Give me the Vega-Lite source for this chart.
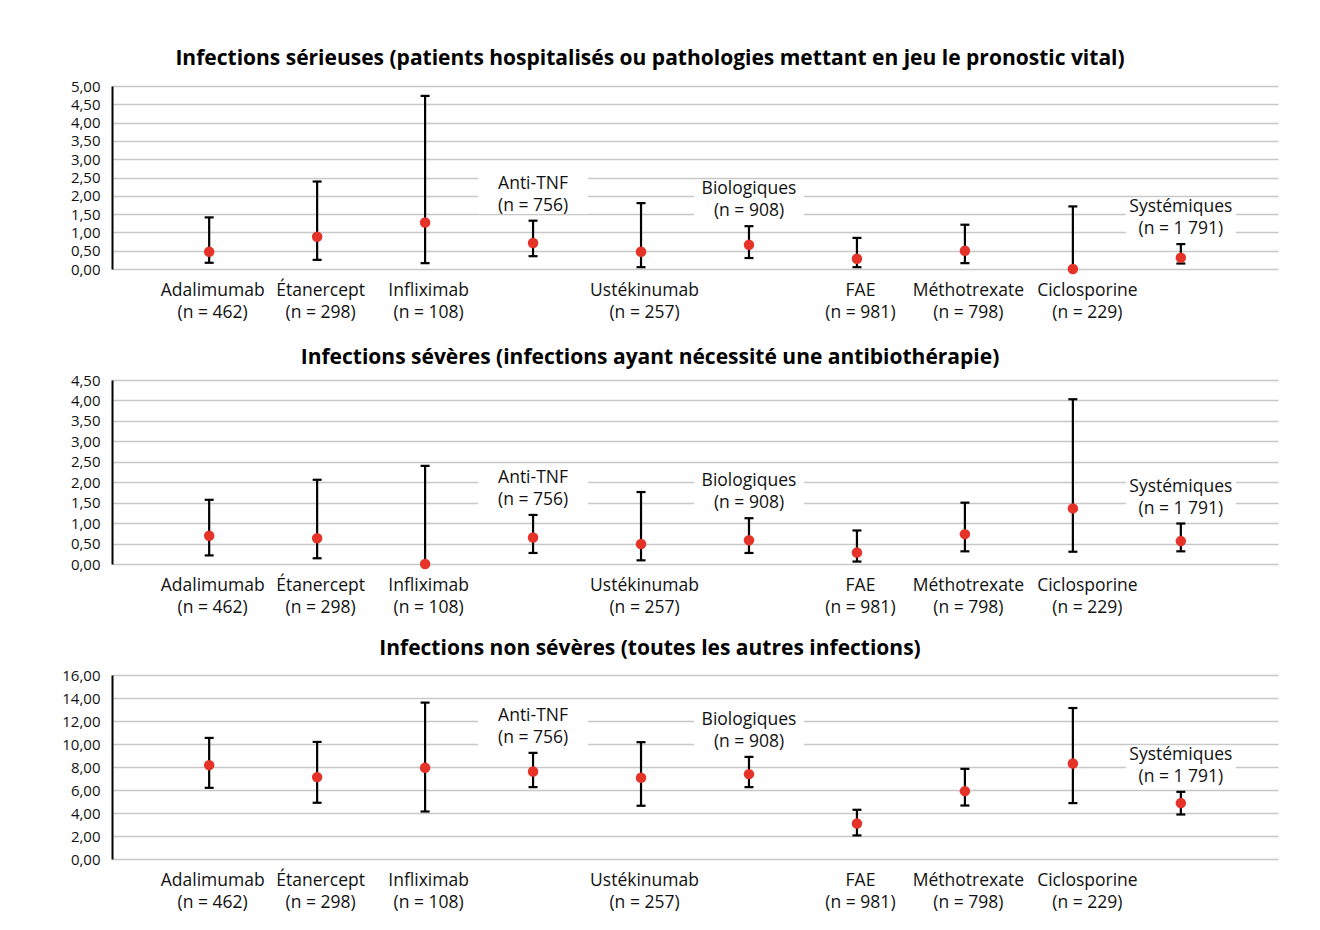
{
  "$schema": "https://vega.github.io/schema/vega-lite/v6.json",
  "background": "white",
  "padding": {"left": 61, "top": 48, "right": 5, "bottom": 5},
  "datasets": {
    "d": [
      {"panel": "A", "cat": "Adalimumab|(n = 462)", "est": 0.47, "low": 0.17, "high": 1.41, "grp": false},
      {"panel": "A", "cat": "Étanercept|(n = 298)", "est": 0.88, "low": 0.25, "high": 2.39, "grp": false},
      {"panel": "A", "cat": "Infliximab|(n = 108)", "est": 1.27, "low": 0.16, "high": 4.73, "grp": false},
      {"panel": "A", "cat": "Anti-TNF|(n = 756)", "est": 0.71, "low": 0.35, "high": 1.32, "grp": true},
      {"panel": "A", "cat": "Ustékinumab|(n = 257)", "est": 0.47, "low": 0.05, "high": 1.8, "grp": false},
      {"panel": "A", "cat": "Biologiques|(n = 908)", "est": 0.66, "low": 0.3, "high": 1.17, "grp": true},
      {"panel": "A", "cat": "FAE|(n = 981)", "est": 0.28, "low": 0.05, "high": 0.85, "grp": false},
      {"panel": "A", "cat": "Méthotrexate|(n = 798)", "est": 0.5, "low": 0.16, "high": 1.21, "grp": false},
      {"panel": "A", "cat": "Ciclosporine|(n = 229)", "est": 0.0, "low": 0.0, "high": 1.71, "grp": false},
      {"panel": "A", "cat": "Systémiques|(n = 1 791)", "est": 0.31, "low": 0.15, "high": 0.68, "grp": true},
      {"panel": "B", "cat": "Adalimumab|(n = 462)", "est": 0.69, "low": 0.21, "high": 1.57, "grp": false},
      {"panel": "B", "cat": "Étanercept|(n = 298)", "est": 0.63, "low": 0.14, "high": 2.06, "grp": false},
      {"panel": "B", "cat": "Infliximab|(n = 108)", "est": 0.0, "low": 0.0, "high": 2.4, "grp": false},
      {"panel": "B", "cat": "Anti-TNF|(n = 756)", "est": 0.65, "low": 0.27, "high": 1.2, "grp": true},
      {"panel": "B", "cat": "Ustékinumab|(n = 257)", "est": 0.49, "low": 0.09, "high": 1.76, "grp": false},
      {"panel": "B", "cat": "Biologiques|(n = 908)", "est": 0.58, "low": 0.27, "high": 1.12, "grp": true},
      {"panel": "B", "cat": "FAE|(n = 981)", "est": 0.28, "low": 0.06, "high": 0.82, "grp": false},
      {"panel": "B", "cat": "Méthotrexate|(n = 798)", "est": 0.73, "low": 0.31, "high": 1.5, "grp": false},
      {"panel": "B", "cat": "Ciclosporine|(n = 229)", "est": 1.36, "low": 0.3, "high": 4.03, "grp": false},
      {"panel": "B", "cat": "Systémiques|(n = 1 791)", "est": 0.56, "low": 0.31, "high": 0.99, "grp": true},
      {"panel": "C", "cat": "Adalimumab|(n = 462)", "est": 8.16, "low": 6.19, "high": 10.53, "grp": false},
      {"panel": "C", "cat": "Étanercept|(n = 298)", "est": 7.12, "low": 4.89, "high": 10.18, "grp": false},
      {"panel": "C", "cat": "Infliximab|(n = 108)", "est": 7.93, "low": 4.13, "high": 13.6, "grp": false},
      {"panel": "C", "cat": "Anti-TNF|(n = 756)", "est": 7.61, "low": 6.25, "high": 9.23, "grp": true},
      {"panel": "C", "cat": "Ustékinumab|(n = 257)", "est": 7.06, "low": 4.63, "high": 10.16, "grp": false},
      {"panel": "C", "cat": "Biologiques|(n = 908)", "est": 7.38, "low": 6.25, "high": 8.88, "grp": true},
      {"panel": "C", "cat": "FAE|(n = 981)", "est": 3.09, "low": 2.05, "high": 4.28, "grp": false},
      {"panel": "C", "cat": "Méthotrexate|(n = 798)", "est": 5.9, "low": 4.65, "high": 7.84, "grp": false},
      {"panel": "C", "cat": "Ciclosporine|(n = 229)", "est": 8.3, "low": 4.86, "high": 13.13, "grp": false},
      {"panel": "C", "cat": "Systémiques|(n = 1 791)", "est": 4.86, "low": 3.87, "high": 5.84, "grp": true}
    ]
  },
  "data": {"name": "d"},
  "spacing": 111,
  "bounds": "flush",
  "vconcat": [
    {
      "title": {"text": "Infections sérieuses (patients hospitalisés ou pathologies mettant en jeu le pronostic vital)", "frame": "group", "dx": -45, "offset": 10},
      "width": 1166,
      "height": 183,
      "transform": [{"filter": "datum.panel == 'A'"}],
      "encoding": {
        "x": {"field": "cat", "type": "nominal", "title": null,
          "scale": {"type": "point", "padding": 0.9, "domain": ["Adalimumab|(n = 462)", "Étanercept|(n = 298)", "Infliximab|(n = 108)", "Anti-TNF|(n = 756)", "Ustékinumab|(n = 257)", "Biologiques|(n = 908)", "FAE|(n = 981)", "Méthotrexate|(n = 798)", "Ciclosporine|(n = 229)", "Systémiques|(n = 1 791)"]},
          "axis": {"labelExpr": "indexof(datum.label, 'Anti-TNF') >= 0 || indexof(datum.label, 'Biologiques') >= 0 || indexof(datum.label, 'Systémiques') >= 0 ? '' : split(datum.label, '|')",
            "labelOffset": {"condition": {"test": "indexof(datum.label, 'Ciclosporine') >= 0", "value": 14}, "value": 3}}}
      },
      "layer": [
        {"transform": [{"filter": "datum.grp"}], "mark": {"type": "point", "shape": "M-1,-0.36H1V0.36H-1Z", "size": 12100, "filled": true, "color": "white", "opacity": 1, "strokeWidth": 0, "yOffset": -26.5}, "encoding": {"y": {"field": "high", "type": "quantitative", "title": null}}},
        {"mark": {"type": "rule", "color": "#000", "strokeWidth": 2.2}, "encoding": {"y": {"field": "low", "type": "quantitative", "title": null, "scale": {"domain": [0, 5], "nice": false}, "axis": {"tickCount": 10}}, "y2": {"field": "high"}}},
        {"mark": {"type": "tick", "color": "#000", "size": 9, "thickness": 2.2, "opacity": 1}, "encoding": {"y": {"field": "low", "type": "quantitative", "title": null}}},
        {"mark": {"type": "tick", "color": "#000", "size": 9, "thickness": 2.2, "opacity": 1}, "encoding": {"y": {"field": "high", "type": "quantitative", "title": null}}},
        {"mark": {"type": "point", "filled": true, "color": "#e53329", "size": 110, "opacity": 1}, "encoding": {"y": {"field": "est", "type": "quantitative", "title": null}}},
        {"transform": [{"filter": "datum.grp"}], "mark": {"type": "text", "lineBreak": "|", "baseline": "bottom", "dy": -28, "fontSize": 17.5, "lineHeight": 22, "color": "#111"}, "encoding": {"y": {"field": "high", "type": "quantitative", "title": null}, "text": {"field": "cat"}}}
      ]
    },
    {
      "title": {"text": "Infections sévères (infections ayant nécessité une antibiothérapie)", "frame": "group", "dx": -45, "offset": 5},
      "width": 1166,
      "height": 184,
      "transform": [{"filter": "datum.panel == 'B'"}],
      "encoding": {
        "x": {"field": "cat", "type": "nominal", "title": null,
          "scale": {"type": "point", "padding": 0.9, "domain": ["Adalimumab|(n = 462)", "Étanercept|(n = 298)", "Infliximab|(n = 108)", "Anti-TNF|(n = 756)", "Ustékinumab|(n = 257)", "Biologiques|(n = 908)", "FAE|(n = 981)", "Méthotrexate|(n = 798)", "Ciclosporine|(n = 229)", "Systémiques|(n = 1 791)"]},
          "axis": {"labelExpr": "indexof(datum.label, 'Anti-TNF') >= 0 || indexof(datum.label, 'Biologiques') >= 0 || indexof(datum.label, 'Systémiques') >= 0 ? '' : split(datum.label, '|')",
            "labelOffset": {"condition": {"test": "indexof(datum.label, 'Ciclosporine') >= 0", "value": 14}, "value": 3}}}
      },
      "layer": [
        {"transform": [{"filter": "datum.grp"}], "mark": {"type": "point", "shape": "M-1,-0.36H1V0.36H-1Z", "size": 12100, "filled": true, "color": "white", "opacity": 1, "strokeWidth": 0, "yOffset": -26.5}, "encoding": {"y": {"field": "high", "type": "quantitative", "title": null}}},
        {"mark": {"type": "rule", "color": "#000", "strokeWidth": 2.2}, "encoding": {"y": {"field": "low", "type": "quantitative", "title": null, "scale": {"domain": [0, 4.5], "nice": false}, "axis": {"tickCount": 9}}, "y2": {"field": "high"}}},
        {"mark": {"type": "tick", "color": "#000", "size": 9, "thickness": 2.2, "opacity": 1}, "encoding": {"y": {"field": "low", "type": "quantitative", "title": null}}},
        {"mark": {"type": "tick", "color": "#000", "size": 9, "thickness": 2.2, "opacity": 1}, "encoding": {"y": {"field": "high", "type": "quantitative", "title": null}}},
        {"mark": {"type": "point", "filled": true, "color": "#e53329", "size": 110, "opacity": 1}, "encoding": {"y": {"field": "est", "type": "quantitative", "title": null}}},
        {"transform": [{"filter": "datum.grp"}], "mark": {"type": "text", "lineBreak": "|", "baseline": "bottom", "dy": -28, "fontSize": 17.5, "lineHeight": 22, "color": "#111"}, "encoding": {"y": {"field": "high", "type": "quantitative", "title": null}, "text": {"field": "cat"}}}
      ]
    },
    {
      "title": {"text": "Infections non sévères (toutes les autres infections)", "frame": "group", "dx": -45, "offset": 9},
      "width": 1166,
      "height": 184,
      "transform": [{"filter": "datum.panel == 'C'"}],
      "encoding": {
        "x": {"field": "cat", "type": "nominal", "title": null,
          "scale": {"type": "point", "padding": 0.9, "domain": ["Adalimumab|(n = 462)", "Étanercept|(n = 298)", "Infliximab|(n = 108)", "Anti-TNF|(n = 756)", "Ustékinumab|(n = 257)", "Biologiques|(n = 908)", "FAE|(n = 981)", "Méthotrexate|(n = 798)", "Ciclosporine|(n = 229)", "Systémiques|(n = 1 791)"]},
          "axis": {"labelExpr": "indexof(datum.label, 'Anti-TNF') >= 0 || indexof(datum.label, 'Biologiques') >= 0 || indexof(datum.label, 'Systémiques') >= 0 ? '' : split(datum.label, '|')",
            "labelOffset": {"condition": {"test": "indexof(datum.label, 'Ciclosporine') >= 0", "value": 14}, "value": 3}}}
      },
      "layer": [
        {"transform": [{"filter": "datum.grp"}], "mark": {"type": "point", "shape": "M-1,-0.36H1V0.36H-1Z", "size": 12100, "filled": true, "color": "white", "opacity": 1, "strokeWidth": 0, "yOffset": -26.5}, "encoding": {"y": {"field": "high", "type": "quantitative", "title": null}}},
        {"mark": {"type": "rule", "color": "#000", "strokeWidth": 2.2}, "encoding": {"y": {"field": "low", "type": "quantitative", "title": null, "scale": {"domain": [0, 16], "nice": false}, "axis": {"tickCount": 8}}, "y2": {"field": "high"}}},
        {"mark": {"type": "tick", "color": "#000", "size": 9, "thickness": 2.2, "opacity": 1}, "encoding": {"y": {"field": "low", "type": "quantitative", "title": null}}},
        {"mark": {"type": "tick", "color": "#000", "size": 9, "thickness": 2.2, "opacity": 1}, "encoding": {"y": {"field": "high", "type": "quantitative", "title": null}}},
        {"mark": {"type": "point", "filled": true, "color": "#e53329", "size": 110, "opacity": 1}, "encoding": {"y": {"field": "est", "type": "quantitative", "title": null}}},
        {"transform": [{"filter": "datum.grp"}], "mark": {"type": "text", "lineBreak": "|", "baseline": "bottom", "dy": -28, "fontSize": 17.5, "lineHeight": 22, "color": "#111"}, "encoding": {"y": {"field": "high", "type": "quantitative", "title": null}, "text": {"field": "cat"}}}
      ]
    }
  ],
  "config": {
    "font": "Open Sans",
    "view": {"stroke": null},
    "title": {"fontSize": 21, "fontWeight": "bold", "color": "#000", "anchor": "middle"},
    "axisY": {"domainColor": "#000", "domainWidth": 2, "ticks": false, "gridColor": "#c8c8c8", "gridWidth": 1.5, "labelFontSize": 15, "labelColor": "#111", "labelPadding": 12, "labelExpr": "replace(format(datum.value, '.2f'), '.', ',')"},
    "axisX": {"domain": false, "ticks": false, "grid": false, "labelFontSize": 17.5, "labelColor": "#111", "labelPadding": 12, "labelLineHeight": 22, "labelAngle": 0, "labelOverlap": false}
  }
}
